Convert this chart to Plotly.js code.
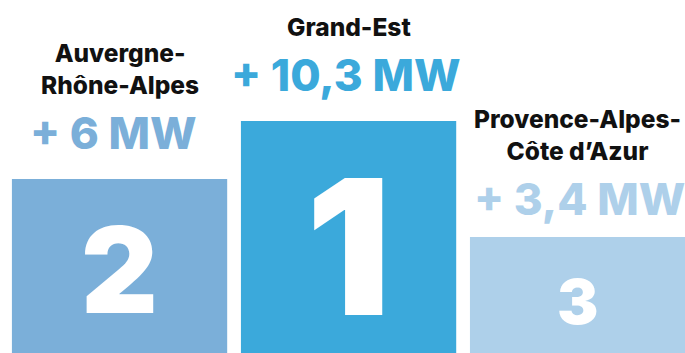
<!DOCTYPE html>
<html>
<head>
<meta charset="utf-8">
<script src="https://cdn.plot.ly/plotly-3.0.1.min.js"></script>
<style>html,body{margin:0;padding:0;background:#fff;}#chart{width:685px;height:353px;}</style>
</head>
<body>
<div id="chart"></div>
<script>
// Data
const regions = ["Auvergne-<br>Rhône-Alpes", "Grand-Est", "Provence-Alpes-<br>Côte d’Azur"];
const valuesMW = [6, 10.3, 3.4];
const ranks = [2, 1, 3];
const podiumHeights = [3, 4, 2];

// Styles
const barColors = ["#7BAFD9", "#3BA9DB", "#AED0EA"];
const digitSizes = [119, 188, 62];
const digitBoxH = [140, 200, 80];
const digitShift = [-4, -9, -6];
const valueShift = [46, 46, 38];
const valueXShift = [-6, -3, 2];
const FONT = "Inter, 'Open Sans', sans-serif";

const fmt = v => "+ " + String(v).replace(".", ",") + " MW";
const xs = regions.map((_, i) => i);

const annotations = [];
xs.forEach((x, i) => {
  annotations.push({
    x: x, y: podiumHeights[i] / 2, xref: "x", yref: "y",
    text: String(ranks[i]), showarrow: false, yanchor: "middle", yshift: digitShift[i],
    height: digitBoxH[i], valign: "middle",
    font: {family: FONT, size: digitSizes[i], color: "#ffffff", weight: 900}
  });
  annotations.push({
    x: x, y: podiumHeights[i], xref: "x", yref: "y",
    text: fmt(valuesMW[i]), showarrow: false, yanchor: "middle",
    yshift: valueShift[i], xshift: valueXShift[i],
    font: {family: FONT, size: 44, color: barColors[i], weight: 800}
  });
  annotations.push({
    x: x, y: podiumHeights[i], xref: "x", yref: "y",
    text: regions[i], showarrow: false, yanchor: "bottom", yshift: valueShift[i] + 31,
    font: {family: FONT, size: 24.5, color: "#111111", weight: 800}
  });
});

const trace = {
  type: "bar", x: xs, y: podiumHeights, width: 0.94,
  marker: {color: barColors, line: {width: 0}},
  hoverinfo: "none"
};

const layout = {
  width: 685, height: 353,
  margin: {l: 0, r: 0, t: 0, b: 0, pad: 0},
  paper_bgcolor: "#ffffff", plot_bgcolor: "#ffffff",
  showlegend: false,
  xaxis: {range: [-0.522, 2.469], visible: false, fixedrange: true},
  yaxis: {range: [0, 6.086], visible: false, fixedrange: true},
  annotations: annotations
};

Plotly.newPlot("chart", [trace], layout, {displayModeBar: false, staticPlot: true});
</script>
</body>
</html>
